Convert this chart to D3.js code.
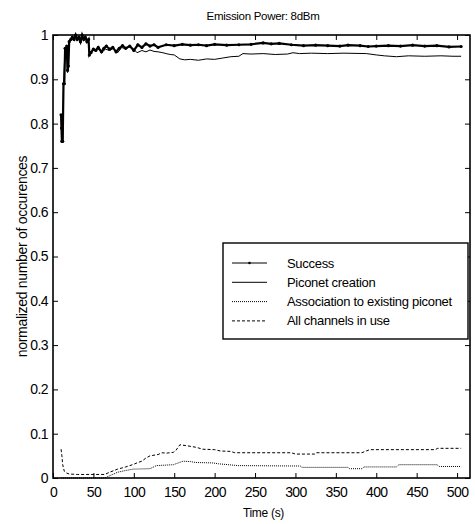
<!DOCTYPE html>
<html>
<head>
<meta charset="utf-8">
<script src="https://cdn.jsdelivr.net/npm/d3@7"></script>
<style>
body { margin: 0; background: #fff; }
svg text { font-family: "Liberation Sans", Arial, sans-serif; fill: #000; }
</style>
</head>
<body>
<svg id="chart" width="475" height="524"></svg>
<script>
// success (thick line with markers)
const successT = [10,10.5,11,12,13,14,15,16,17,18,19,20,22,24,26,28,30,32,34,36,38,40,42,44,45,47,50,53,56,60,63,66,70,74,78,82,86,90,95,100,105,110,115,120,125,130,140,150,160,170,180,190,200,215,230,245,260,270,280,295,310,325,340,355,365,380,390,400,415,430,445,460,475,490,505];
const successV = [0.82,0.79,0.76,0.76,0.89,0.89,0.97,0.965,0.975,0.92,0.93,0.985,0.99,0.995,0.99,1.0,0.99,0.995,0.985,1.0,0.99,0.995,0.985,0.99,0.955,0.96,0.968,0.965,0.972,0.962,0.97,0.975,0.968,0.972,0.962,0.97,0.976,0.97,0.975,0.965,0.978,0.972,0.98,0.975,0.978,0.972,0.978,0.976,0.979,0.977,0.978,0.976,0.979,0.977,0.978,0.979,0.982,0.98,0.981,0.978,0.976,0.977,0.976,0.975,0.977,0.976,0.974,0.975,0.976,0.975,0.977,0.975,0.976,0.973,0.974];

// piconet creation
const piconetT = [10,11,12,13,15,17,18,19,20,24,28,32,36,40,44,45,50,55,60,65,70,75,80,85,90,95,100,104,110,115,120,125,130,136,140,145,150,157,163,170,180,190,200,210,220,230,235,245,260,275,290,297,305,320,340,360,388,400,410,425,440,460,480,495,505];
const piconetV = [0.82,0.76,0.76,0.89,0.97,0.975,0.915,0.93,0.985,0.99,0.995,0.99,0.995,0.99,0.985,0.96,0.965,0.97,0.96,0.968,0.965,0.97,0.96,0.972,0.968,0.975,0.968,0.96,0.965,0.962,0.966,0.963,0.962,0.96,0.958,0.956,0.955,0.946,0.944,0.945,0.943,0.946,0.945,0.948,0.951,0.952,0.958,0.957,0.958,0.956,0.957,0.96,0.958,0.959,0.958,0.959,0.958,0.955,0.953,0.951,0.953,0.952,0.953,0.952,0.952];

// association to existing piconet (dotted)
const assocT = [10,64,70,80,90,99,120,128,149,155,161,170,177,198,205,229,306,308,365,367,382,385,425,428,475,478,505];
const assocV = [0.0,0.0,0.005,0.013,0.017,0.02,0.021,0.028,0.030,0.034,0.038,0.037,0.035,0.034,0.032,0.028,0.027,0.024,0.024,0.021,0.021,0.025,0.025,0.030,0.030,0.026,0.026];

// all channels in use (dashed)
const channelsT = [10,11,12,14,17,20,30,64,70,80,90,100,105,110,115,120,130,135,140,149,152,157,165,178,185,200,207,220,225,295,300,324,326,382,392,473,476,505];
const channelsV = [0.065,0.05,0.03,0.015,0.011,0.009,0.008,0.008,0.013,0.02,0.025,0.031,0.035,0.038,0.045,0.05,0.053,0.057,0.056,0.058,0.062,0.075,0.073,0.069,0.065,0.064,0.061,0.060,0.057,0.057,0.054,0.054,0.057,0.057,0.064,0.064,0.067,0.067];

const xTicks = [0,50,100,150,200,250,300,350,400,450,500];
const yTicks = [0,0.1,0.2,0.3,0.4,0.5,0.6,0.7,0.8,0.9,1];
const legendLabels = ["Success","Piconet creation","Association to existing piconet","All channels in use"];

const svg = d3.select("#chart");
const mLeft = 53, mRight = 470, mTop = 35, mBottom = 478;

const x = d3.scaleLinear().domain([0, 516]).range([mLeft, mRight]);
const y = d3.scaleLinear().domain([0, 1]).range([mBottom, mTop]);

const zip = (t, v) => t.map((d, i) => [d, v[i]]);
const line = d3.line().x(d => x(d[0])).y(d => y(d[1]));

// axes, ticks inward
const fmt = d => d === 0 ? "0" : d === 1 ? "1" : String(d);
svg.append("g").attr("transform", "translate(0," + mBottom + ")")
  .call(d3.axisBottom(x).tickValues(xTicks).tickSize(-5).tickPadding(9).tickFormat(d3.format("d")));
svg.append("g").attr("transform", "translate(0," + mTop + ")")
  .call(d3.axisTop(x).tickValues(xTicks).tickSize(-5).tickFormat(""));
svg.append("g").attr("transform", "translate(" + mLeft + ",0)")
  .call(d3.axisLeft(y).tickValues(yTicks).tickSize(-5).tickPadding(5).tickFormat(fmt));
svg.append("g").attr("transform", "translate(" + mRight + ",0)")
  .call(d3.axisRight(y).tickValues(yTicks).tickSize(-5).tickFormat(""));

svg.selectAll(".domain").remove();
svg.selectAll(".tick line").attr("stroke", "#000").attr("stroke-width", 1);
svg.selectAll(".tick text").attr("font-size", 14).attr("letter-spacing", -0.6)
  .attr("font-family", "Liberation Sans, Arial, sans-serif").attr("fill", "#000");

svg.append("rect")
  .attr("x", mLeft).attr("y", mTop)
  .attr("width", mRight - mLeft).attr("height", mBottom - mTop)
  .attr("fill", "none").attr("stroke", "#000").attr("stroke-width", 1.6);

// series
svg.append("path").datum(zip(piconetT, piconetV))
  .attr("d", line).attr("fill", "none").attr("stroke", "#000").attr("stroke-width", 1);
svg.append("path").datum(zip(assocT, assocV))
  .attr("d", line).attr("fill", "none").attr("stroke", "#000").attr("stroke-width", 1)
  .attr("stroke-dasharray", "1,1");
svg.append("path").datum(zip(channelsT, channelsV))
  .attr("d", line).attr("fill", "none").attr("stroke", "#000").attr("stroke-width", 1)
  .attr("stroke-dasharray", "3,2");
const succ = zip(successT, successV);
svg.append("path").datum(succ)
  .attr("d", line).attr("fill", "none").attr("stroke", "#000").attr("stroke-width", 2.2);
svg.append("g").selectAll("circle").data(succ).enter().append("circle")
  .attr("cx", d => x(d[0])).attr("cy", d => y(d[1])).attr("r", 1.6).attr("fill", "#000");

// titles
svg.append("text").attr("x", 263).attr("y", 20).attr("text-anchor", "middle")
  .attr("font-size", 11.5).attr("letter-spacing", -0.3).text("Emission Power: 8dBm");
svg.append("text").attr("x", 263.5).attr("y", 517).attr("text-anchor", "middle")
  .attr("font-size", 12).attr("letter-spacing", -0.3).text("Time (s)");
svg.append("text").attr("transform", "translate(27," + ((mTop + mBottom) / 2) + ") rotate(-90)")
  .attr("text-anchor", "middle").attr("font-size", 14).attr("letter-spacing", -0.3)
  .text("normalized number of occurences");

// legend
const lg = svg.append("g");
lg.append("rect").attr("x", 223).attr("y", 243).attr("width", 245).attr("height", 96)
  .attr("fill", "#fff").attr("stroke", "#000").attr("stroke-width", 1.4);
const dashes = [null, null, "1,1", "3,2"];
legendLabels.forEach((lab, i) => {
  const yy = 263 + i * 19.3;
  lg.append("line").attr("x1", 232).attr("x2", 267).attr("y1", yy).attr("y2", yy)
    .attr("stroke", "#000").attr("stroke-width", 1)
    .attr("stroke-dasharray", dashes[i]);
  if (i === 0) lg.append("circle").attr("cx", 249.5).attr("cy", yy).attr("r", 1.3).attr("fill", "#000");
  lg.append("text").attr("x", 287).attr("y", yy + 4.5).attr("font-size", 13).attr("letter-spacing", -0.3).text(lab);
});
</script>
</body>
</html>
